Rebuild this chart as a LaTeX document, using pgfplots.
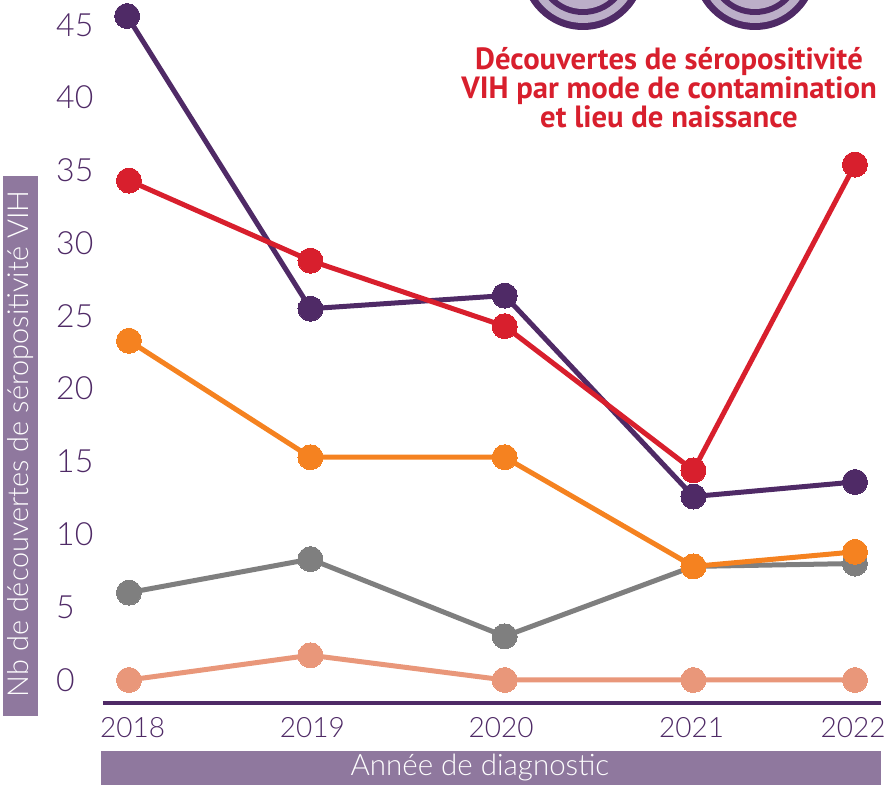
\documentclass[border=0pt]{standalone}
\usepackage{pgfplots}
\pgfplotsset{compat=1.18}
\usepackage{fontspec}
\setmainfont{Lato Light}
\newfontfamily\titlefont{PT Sans}
\definecolor{vpurple}{HTML}{4F2A66}
\definecolor{vbar}{HTML}{8F789E}
\definecolor{vlight}{HTML}{BCAFC8}
\definecolor{vred}{HTML}{D81F2D}
\definecolor{vorange}{HTML}{F58220}
\definecolor{vgray}{HTML}{7F7F7F}
\definecolor{vsalmon}{HTML}{E9977A}
\begin{document}
\begin{tikzpicture}
\useasboundingbox (-103pt,-82pt) rectangle (789pt,703pt);
\clip (-103pt,-82pt) rectangle (789pt,703pt);
% decorative discs cut by the top edge
\foreach \cx in {480,652}{
  \fill[vpurple] (\cx pt,735pt) circle (62pt);
  \fill[vlight] (\cx pt,735pt) circle (55pt);
  \fill[vpurple] (\cx pt,735pt) circle (47pt);
  \fill[vlight] (\cx pt,735pt) circle (41pt);
}
% side and bottom bands
\fill[vbar] (-100pt,-13pt) rectangle (-65pt,527pt);
\fill[vbar] (-2pt,-82pt) rectangle (778pt,-48pt);
\node[text=white,font=\fontsize{28.9}{28}\selectfont,rotate=90] at (-82pt,259pt) {Nb de découvertes de séropositivité VIH};
\node[text=white,font=\fontsize{29.5}{29}\selectfont] at (377pt,-65pt) {Année de diagnostic};
\begin{axis}[
  scale only axis, width=789pt, height=703pt,
  xmin=2017.857, xmax=2022.204, ymin=-1.58, ymax=46.70,
  clip=false,
  axis x line=bottom, axis y line=none,
  x axis line style={line width=4pt,vpurple,-,shorten >=11pt},
  major tick length=0pt,
  xtick={2018.02,2019.01,2020.05,2021.10,2021.99},
  xticklabels={2018,2019,2020,2021,2022},
  ytick={0,5,...,45},
  tick label style={text=vpurple,font=\fontsize{28}{28}\selectfont},
  /pgf/number format/assume math mode=true,
  /pgf/number format/1000 sep={},
  xticklabel style={anchor=center,yshift=-25pt},
  every axis plot/.append style={line width=5pt,mark=*,mark size=12.5pt,mark options={solid}},
]
\addplot[vsalmon,mark options={fill=vsalmon,draw=vsalmon,line width=0pt}] coordinates {(2018,0)(2019,1.7)(2020.07,0)(2021.11,0)(2022,0)};
\addplot[vgray,mark options={fill=vgray,draw=vgray,line width=0pt}] coordinates {(2018,6.0)(2019,8.3)(2020.07,3.0)(2021.11,7.8)(2022,8.0)};
\addplot[vpurple,mark options={fill=vpurple,draw=vpurple,line width=0pt}] coordinates {(2017.99,45.6)(2019,25.5)(2020.07,26.4)(2021.11,12.6)(2022,13.6)};
\addplot[vred,mark options={fill=vred,draw=vred,line width=0pt}] coordinates {(2018,34.3)(2019,28.8)(2020.07,24.3)(2021.11,14.4)(2022,35.4)};
\addplot[vorange,mark options={fill=vorange,draw=vorange,line width=0pt}] coordinates {(2018,23.3)(2019,15.3)(2020.07,15.3)(2021.11,7.8)(2022,8.8)};
\end{axis}
% y tick labels
\begin{scope}[text=vpurple,font=\fontsize{32}{32}\selectfont]
\foreach \v/\py in {0/680,5/607,10/534,15/461,20/388,25/316,30/243,35/170,40/97,45/25}{
  \node[anchor=west,inner sep=0pt] at (-47pt,{(703-\py)*1pt}) {\v};
}
\end{scope}
\node[text=vred,font=\titlefont\bfseries\fontsize{30.7}{27}\selectfont,align=center] at (566pt,615pt) {Découvertes de séropositivité\\VIH par mode de contamination\\et lieu de naissance};
\end{tikzpicture}
\end{document}
